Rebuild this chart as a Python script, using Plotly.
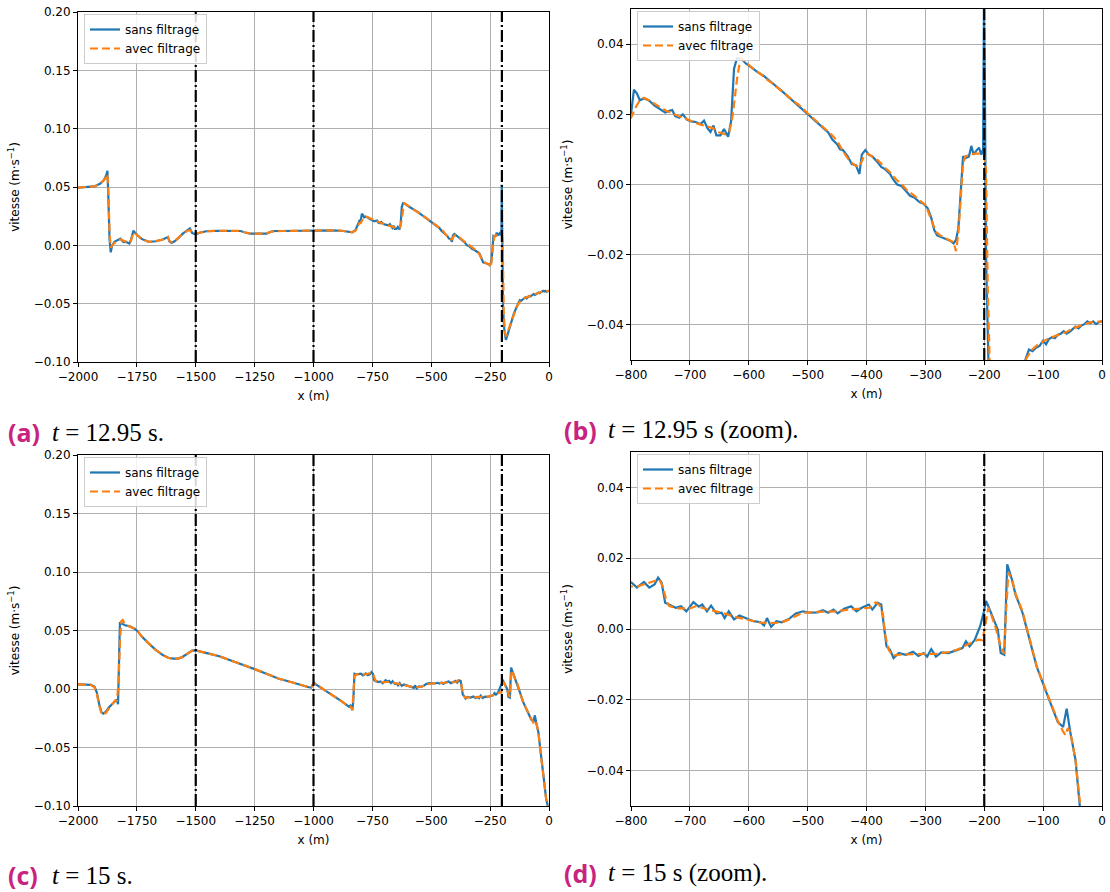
import plotly.graph_objects as go

# ---------------- data : t = 12.95 s ----------------
x_1295_sans = [
    -2000, -1960, -1930, -1905, -1890, -1880, -1875, -1871, -1866, -1861,
    -1855, -1845, -1832, -1820, -1808, -1795, -1782, -1775, -1765, -1750,
    -1730, -1700, -1670, -1640, -1618, -1612, -1603, -1590, -1575, -1555,
    -1535, -1525, -1515, -1500, -1480, -1450, -1400, -1350, -1310, -1290,
    -1270, -1240, -1200, -1185, -1170, -1130, -1090, -1050, -1000, -960,
    -920, -880, -850, -835, -822, -812, -805,
    -800, -795, -790, -785, -778, -770, -760, -750, -742, -735,
    -730, -725, -718, -712, -705, -698, -690, -682, -676, -670,
    -665, -660, -655, -648, -642, -635, -630, -625, -620, -612,
    -605, -595, -585, -575, -565, -555, -545, -535, -525, -515,
    -505, -495, -485, -475, -465, -458, -450, -445, -440, -432,
    -425, -418, -412, -408, -402, -396, -390, -382, -375, -368,
    -360, -355, -348, -340, -333, -326, -318, -310, -303, -296,
    -290, -285, -280, -272, -265, -258, -252, -248, -244, -240,
    -236, -232, -226, -222, -218, -214, -209, -205, -202, -200.5,
    -199, -197, -195, -190, -183, -178, -170, -160, -150, -140,
    -130, -124, -118, -112, -106, -100, -95, -90, -85, -80,
    -75, -70, -65, -60, -55, -50, -45, -40, -35, -30,
    -25, -20, -15, -10, -5, 0,
]
v_1295_sans = [
    0.0495, 0.050, 0.0505, 0.053, 0.056, 0.060, 0.064, 0.040, 0.005, -0.006,
    0.000, 0.003, 0.0045, 0.0058, 0.003, 0.0028, 0.0015, 0.0045, 0.0125, 0.009,
    0.0055, 0.003, 0.0035, 0.005, 0.0072, 0.0035, 0.002, 0.0035, 0.006, 0.010,
    0.013, 0.0145, 0.0105, 0.0095, 0.011, 0.0123, 0.0125, 0.0125, 0.0123, 0.011,
    0.010, 0.010, 0.010, 0.0115, 0.0123, 0.0123, 0.0125, 0.0125, 0.013, 0.0128,
    0.0128, 0.0125, 0.012, 0.0112, 0.013, 0.017, 0.021,
    0.020, 0.027, 0.026, 0.024, 0.0245, 0.024, 0.0225, 0.0215, 0.0205, 0.021,
    0.0212, 0.0195, 0.019, 0.020, 0.0185, 0.018, 0.0178, 0.0172, 0.0182, 0.016,
    0.015, 0.0168, 0.014, 0.014, 0.0158, 0.0136, 0.018, 0.033, 0.036, 0.0357,
    0.0345, 0.0333, 0.032, 0.031, 0.0295, 0.0282, 0.0268, 0.0253, 0.024, 0.0225,
    0.021, 0.0195, 0.0178, 0.0165, 0.0148, 0.0128, 0.0115, 0.010, 0.0098, 0.008,
    0.0058, 0.0055, 0.003, 0.0085, 0.0098, 0.0085, 0.008, 0.0065, 0.005, 0.0043,
    0.003, 0.0015, 0.000, -0.0005, -0.002, -0.0032, -0.0038, -0.005, -0.0055, -0.0068,
    -0.0095, -0.013, -0.0145, -0.015, -0.0155, -0.016, -0.0168, -0.0158, -0.0125, -0.003,
    0.008, 0.0075, 0.008, 0.011, 0.0085, 0.0095, 0.0105, 0.0085, 0.010, 0.052,
    0.030, -0.020, -0.055, -0.072, -0.081, -0.078, -0.072, -0.066, -0.059, -0.054,
    -0.0498, -0.047, -0.0475, -0.0465, -0.046, -0.0445, -0.0455, -0.044, -0.0435, -0.0438,
    -0.0428, -0.0425, -0.0418, -0.0425, -0.042, -0.0412, -0.0405, -0.041, -0.0402, -0.0398,
    -0.039, -0.0395, -0.039, -0.0398, -0.0392, -0.039,
]

x_1295_avec = [
    -2000, -1960, -1930, -1905, -1890, -1880, -1875, -1871, -1866, -1861,
    -1855, -1845, -1832, -1820, -1808, -1795, -1782, -1775, -1765, -1750,
    -1730, -1700, -1670, -1640, -1618, -1612, -1603, -1590, -1575, -1555,
    -1535, -1525, -1515, -1500, -1480, -1450, -1400, -1350, -1310, -1290,
    -1270, -1240, -1200, -1185, -1170, -1130, -1090, -1050, -1000, -960,
    -920, -880, -850, -835, -822, -812, -805,
    -800, -792, -785, -778, -770, -760, -750, -740, -730, -720,
    -710, -700, -690, -680, -670, -660, -650, -640, -633, -627,
    -620, -614, -608, -600, -590, -580, -570, -560, -550, -540,
    -530, -520, -510, -500, -490, -480, -470, -460, -450, -440,
    -430, -420, -412, -405, -398, -390, -380, -370, -360, -350,
    -340, -330, -320, -310, -300, -290, -282, -275, -268, -260,
    -252, -248, -244, -240, -236, -232, -225, -215, -205, -200,
    -197, -194, -192, -187, -182, -175, -165, -155, -145, -135,
    -130, -120, -110, -100, -90, -80, -70, -60, -50, -40,
    -30, -20, -10, 0,
]
v_1295_avec = [
    0.0495, 0.050, 0.0505, 0.053, 0.056, 0.059, 0.061, 0.045, 0.010, -0.002,
    0.000, 0.002, 0.004, 0.005, 0.004, 0.003, 0.002, 0.004, 0.011, 0.009,
    0.0055, 0.003, 0.0035, 0.005, 0.007, 0.004, 0.0025, 0.0035, 0.006, 0.010,
    0.0125, 0.013, 0.011, 0.010, 0.011, 0.012, 0.0125, 0.0125, 0.0123, 0.011,
    0.0102, 0.010, 0.010, 0.0113, 0.012, 0.0123, 0.0125, 0.0125, 0.013, 0.0128,
    0.0128, 0.0125, 0.012, 0.0113, 0.0125, 0.016, 0.019,
    0.019, 0.022, 0.024, 0.0247, 0.024, 0.023, 0.0218, 0.021, 0.0203, 0.0195,
    0.019, 0.0182, 0.0175, 0.017, 0.0165, 0.016, 0.0148, 0.0143, 0.015, 0.020,
    0.030, 0.036, 0.0352, 0.034, 0.0327, 0.0315, 0.030, 0.0288, 0.0275, 0.026,
    0.0247, 0.0233, 0.022, 0.0203, 0.0188, 0.0172, 0.0158, 0.0143, 0.0125, 0.0095,
    0.007, 0.0055, 0.005, 0.0078, 0.0088, 0.008, 0.0068, 0.005, 0.0035, 0.0015,
    0.0000, -0.0018, -0.003, -0.0045, -0.0058, -0.010, -0.0135, -0.0145, -0.015, -0.0158,
    -0.0165, -0.019, -0.014, -0.004, 0.006, 0.008, 0.0085, 0.0088, 0.0088, 0.0085,
    0.004, -0.030, -0.060, -0.075, -0.078, -0.074, -0.068, -0.062, -0.057, -0.052,
    -0.050, -0.0472, -0.0458, -0.0447, -0.0438, -0.0432, -0.0425, -0.042, -0.041, -0.0405,
    -0.0398, -0.0393, -0.0392, -0.039,
]

# ---------------- data : t = 15 s ----------------
x_15_sans = [
    -2000, -1970, -1945, -1930, -1920, -1910, -1900, -1892, -1880, -1870,
    -1855, -1843, -1835, -1830, -1826, -1822, -1815, -1800, -1780, -1760,
    -1745, -1730, -1700, -1670, -1640, -1615, -1595, -1575, -1560, -1545,
    -1530, -1515, -1500, -1470, -1440, -1400, -1350, -1300, -1250, -1200,
    -1150, -1100, -1050, -1020, -1010, -1003, -998, -990, -970, -950,
    -920, -900, -880, -860, -850, -843, -839, -835, -831, -826,
    -818, -810,
    -799, -790, -778, -769, -760, -754, -748, -742, -736, -724,
    -715, -706, -694, -685, -679, -671, -664, -655, -646, -641,
    -634, -625, -616, -604, -592, -580, -574, -569, -562, -553,
    -544, -532, -520, -508, -496, -483, -474, -465, -456, -449,
    -438, -426, -417, -408, -396, -390, -381, -375, -372, -366,
    -360, -354, -345, -333, -321, -312, -303, -297, -290, -282,
    -273, -261, -249, -237, -231, -225, -216, -207, -201, -197,
    -192, -183, -177, -172, -166, -161, -153, -147, -135, -123,
    -111, -96, -87, -75, -66, -60, -54, -45, -38, -27,
    -18, -12, -5, -2,
]
v_15_sans = [
    0.004, 0.004, 0.0035, 0.002, -0.003, -0.013, -0.020, -0.021, -0.019, -0.016,
    -0.013, -0.010, -0.009, -0.013, 0.020, 0.057, 0.056, 0.0545, 0.0535, 0.0515,
    0.049, 0.045, 0.039, 0.0335, 0.029, 0.0265, 0.026, 0.026, 0.027, 0.029,
    0.0315, 0.0328, 0.033, 0.0318, 0.030, 0.028, 0.0245, 0.021, 0.017, 0.013,
    0.009, 0.0062, 0.003, 0.0015, 0.0012, 0.0045, 0.0055, 0.004, 0.0015, -0.001,
    -0.005, -0.0075, -0.0105, -0.0135, -0.015, -0.014, -0.0165, -0.018, -0.010, 0.013,
    0.0125, 0.0128,
    0.0131, 0.0117, 0.0133, 0.0117, 0.0126, 0.0145, 0.0131, 0.0074, 0.0069, 0.006,
    0.0064, 0.005, 0.0076, 0.0063, 0.0069, 0.005, 0.0066, 0.0044, 0.0046, 0.0031,
    0.005, 0.0027, 0.0038, 0.0031, 0.0022, 0.0019, 0.001, 0.0031, 0.0006, 0.0022,
    0.0019, 0.0028, 0.0044, 0.005, 0.0046, 0.0047, 0.0053, 0.0046, 0.0055, 0.0044,
    0.0057, 0.0064, 0.005, 0.006, 0.0069, 0.0055, 0.0074, 0.0069, 0.0027, -0.0049,
    -0.0059, -0.0082, -0.0068, -0.0073, -0.0064, -0.0076, -0.0068, -0.0078, -0.0057, -0.0078,
    -0.0066, -0.0068, -0.0061, -0.0054, -0.0035, -0.0049, -0.003, 0.0008, 0.0046, 0.0079,
    0.006, 0.0022, -0.0002, -0.0068, -0.0073, 0.0183, 0.014, 0.0098, 0.0046, -0.003,
    -0.0106, -0.0173, -0.021, -0.0263, -0.0277, -0.0225, -0.029, -0.037, -0.0495, -0.069,
    -0.082, -0.094, -0.100, -0.106,
]

x_15_avec = [
    -2000, -1970, -1945, -1930, -1920, -1910, -1900, -1892, -1880, -1870,
    -1855, -1843, -1835, -1828, -1822, -1816, -1810, -1800, -1780, -1760,
    -1745, -1730, -1700, -1670, -1640, -1615, -1595, -1575, -1560, -1545,
    -1530, -1515, -1500, -1470, -1440, -1400, -1350, -1300, -1250, -1200,
    -1150, -1100, -1050, -1020, -1010, -1003, -998, -990, -970, -950,
    -920, -900, -880, -860, -850, -843, -839, -835, -831, -826,
    -818, -810,
    -800, -790, -780, -770, -760, -752, -746, -740, -735, -720,
    -700, -690, -680, -660, -640, -620, -600, -580, -560, -545,
    -530, -510, -490, -470, -450, -430, -410, -395, -385, -378,
    -372, -368, -362, -355, -340, -320, -300, -280, -260, -245,
    -230, -218, -210, -203, -198, -193, -188, -180, -172, -166,
    -163, -159, -152, -147, -135, -123, -111, -96, -87, -75,
    -66, -62, -58, -54, -45, -38, -27, -18, -12, -5,
    -2,
]
v_15_avec = [
    0.004, 0.004, 0.0035, 0.0015, -0.004, -0.014, -0.021, -0.022, -0.020, -0.017,
    -0.013, -0.010, -0.010, 0.005, 0.040, 0.058, 0.059, 0.055, 0.0535, 0.0515,
    0.049, 0.045, 0.039, 0.0335, 0.029, 0.0265, 0.026, 0.026, 0.027, 0.029,
    0.0315, 0.0328, 0.033, 0.0318, 0.030, 0.028, 0.0245, 0.021, 0.017, 0.013,
    0.009, 0.0062, 0.003, 0.0015, 0.0012, 0.004, 0.005, 0.004, 0.0015, -0.001,
    -0.005, -0.0075, -0.0105, -0.0135, -0.015, -0.015, -0.017, -0.018, -0.005, 0.011,
    0.0125, 0.0125,
    0.012, 0.012, 0.0125, 0.013, 0.0135, 0.014, 0.012, 0.008, 0.0065, 0.0058,
    0.0058, 0.0064, 0.006, 0.0052, 0.0043, 0.0033, 0.0025, 0.0018, 0.0017, 0.0018,
    0.0028, 0.0045, 0.0048, 0.005, 0.005, 0.0055, 0.0057, 0.006, 0.0075, 0.0068,
    0.004, -0.002, -0.006, -0.0075, -0.0072, -0.0071, -0.0072, -0.007, -0.0065, -0.0058,
    -0.0045, -0.0035, -0.003, -0.0032, 0.002, 0.006, 0.004, 0.000, -0.005, -0.007,
    0.005, 0.016, 0.0135, 0.010, 0.005, -0.003, -0.0105, -0.017, -0.021, -0.026,
    -0.029, -0.030, -0.028, -0.029, -0.037, -0.050, -0.069, -0.082, -0.094, -0.100,
    -0.106,
]

interfaces_full = [-1500, -1000, -200]
interfaces_zoom = [-200]

series_names = ["sans filtrage", "avec filtrage"]
captions_label = ["(a)", "(b)", "(c)", "(d)"]
captions_text = ["<i>t</i> = 12.95 s.", "<i>t</i> = 12.95 s (zoom).",
                 "<i>t</i> = 15 s.", "<i>t</i> = 15 s (zoom)."]

for a, b in [(x_1295_sans, v_1295_sans), (x_1295_avec, v_1295_avec),
             (x_15_sans, v_15_sans), (x_15_avec, v_15_avec)]:
    assert len(a) == len(b), (len(a), len(b))

# ---------------- figure ----------------
W, H = 1110, 892
BLUE, ORANGE = "#1f77b4", "#ff7f0e"


def px(v):
    return v / W


def py(v):
    return 1 - v / H


panels = [
    dict(data=(x_1295_sans, v_1295_sans, x_1295_avec, v_1295_avec),
         xd=(78, 549), yd=(12, 362), xr=[-2000, 0], yr=[-0.10, 0.20], dx=250, dy=0.05,
         vl=interfaces_full),
    dict(data=(x_1295_sans, v_1295_sans, x_1295_avec, v_1295_avec),
         xd=(631, 1102), yd=(9, 360), xr=[-800, 0], yr=[-0.05, 0.05], dx=100, dy=0.02,
         vl=interfaces_zoom),
    dict(data=(x_15_sans, v_15_sans, x_15_avec, v_15_avec),
         xd=(78, 549), yd=(455, 806), xr=[-2000, 0], yr=[-0.10, 0.20], dx=250, dy=0.05,
         vl=interfaces_full),
    dict(data=(x_15_sans, v_15_sans, x_15_avec, v_15_avec),
         xd=(631, 1102), yd=(452, 806), xr=[-800, 0], yr=[-0.05, 0.05], dx=100, dy=0.02,
         vl=interfaces_zoom),
]
caption_pos = [(6, 432), (562, 430), (6, 875), (562, 873)]

fig = go.Figure()
layout = dict(template="none", width=W, height=H, margin=dict(l=0, r=0, t=0, b=0, pad=0),
              plot_bgcolor="white", paper_bgcolor="white",
              font=dict(family="DejaVu Sans", size=12, color="black"))
shapes, annotations = [], []

for i, p in enumerate(panels):
    n = "" if i == 0 else str(i + 1)
    xa, ya = "x" + n, "y" + n
    lg = "legend" + n
    xs, vs, xf, vf = p["data"]
    fig.add_trace(go.Scatter(x=xs, y=vs, mode="lines", name=series_names[0],
                             line=dict(color=BLUE, width=2.2),
                             xaxis=xa, yaxis=ya, legend=lg, showlegend=True))
    fig.add_trace(go.Scatter(x=xf, y=vf, mode="lines", name=series_names[1],
                             line=dict(color=ORANGE, width=2.2, dash="8px,4px"),
                             xaxis=xa, yaxis=ya, legend=lg, showlegend=True))
    common = dict(showline=True, linecolor="black", linewidth=1, mirror=True,
                  ticks="outside", ticklen=4, tickwidth=1, tickcolor="black",
                  showgrid=True, gridcolor="#b0b0b0", gridwidth=1, zeroline=False,
                  automargin=False, ticklabeloverflow="allow",
                  tickfont=dict(family="DejaVu Sans", size=12, color="black"))
    layout["xaxis" + n] = dict(common, domain=[px(p["xd"][0]), px(p["xd"][1])],
                               range=p["xr"], dtick=p["dx"], tick0=0, tickformat="d",
                               anchor=ya,
                               title=dict(text="x (m)", standoff=8,
                                          font=dict(family="DejaVu Sans", size=12)))
    layout["yaxis" + n] = dict(common, domain=[py(p["yd"][1]), py(p["yd"][0])],
                               range=p["yr"], dtick=p["dy"], tick0=0, tickformat=".2f",
                               anchor=xa,
                               title=dict(text="vitesse (m·s<sup>−1</sup>)", standoff=11,
                                          font=dict(family="DejaVu Sans", size=12)))
    layout[lg] = dict(x=px(p["xd"][0] + 6), y=py(p["yd"][0] + 2),
                      xanchor="left", yanchor="top",
                      bgcolor="rgba(255,255,255,0.85)", bordercolor="#cccccc", borderwidth=1,
                      font=dict(family="DejaVu Sans", size=12, color="black"),
                      tracegroupgap=0)
    for v in p["vl"]:
        shapes.append(dict(type="line", xref=xa, yref=ya + " domain", x0=v, x1=v, y0=0, y1=1,
                           line=dict(color="black", width=2.2, dash="12px,3px,2px,3px"),
                           layer="above"))
    cx, cy = caption_pos[i]
    annotations.append(dict(text="<b>" + captions_label[i] + "</b>", xref="paper", yref="paper",
                            x=px(cx), y=py(cy), xanchor="left", yanchor="middle", showarrow=False,
                            font=dict(family="Open Sans", size=25, color="#C8237E", weight="bold")))
    annotations.append(dict(text=captions_text[i], xref="paper", yref="paper",
                            x=px(cx + 44), y=py(cy), xanchor="left", yanchor="middle",
                            showarrow=False,
                            font=dict(family="Liberation Serif", size=25, color="black")))

layout["shapes"] = shapes
layout["annotations"] = annotations
fig.update_layout(**layout)
fig.write_html("out.html", config={"displayModeBar": False},
               post_script="document.body.style.margin='0';document.body.style.overflow='hidden';")
